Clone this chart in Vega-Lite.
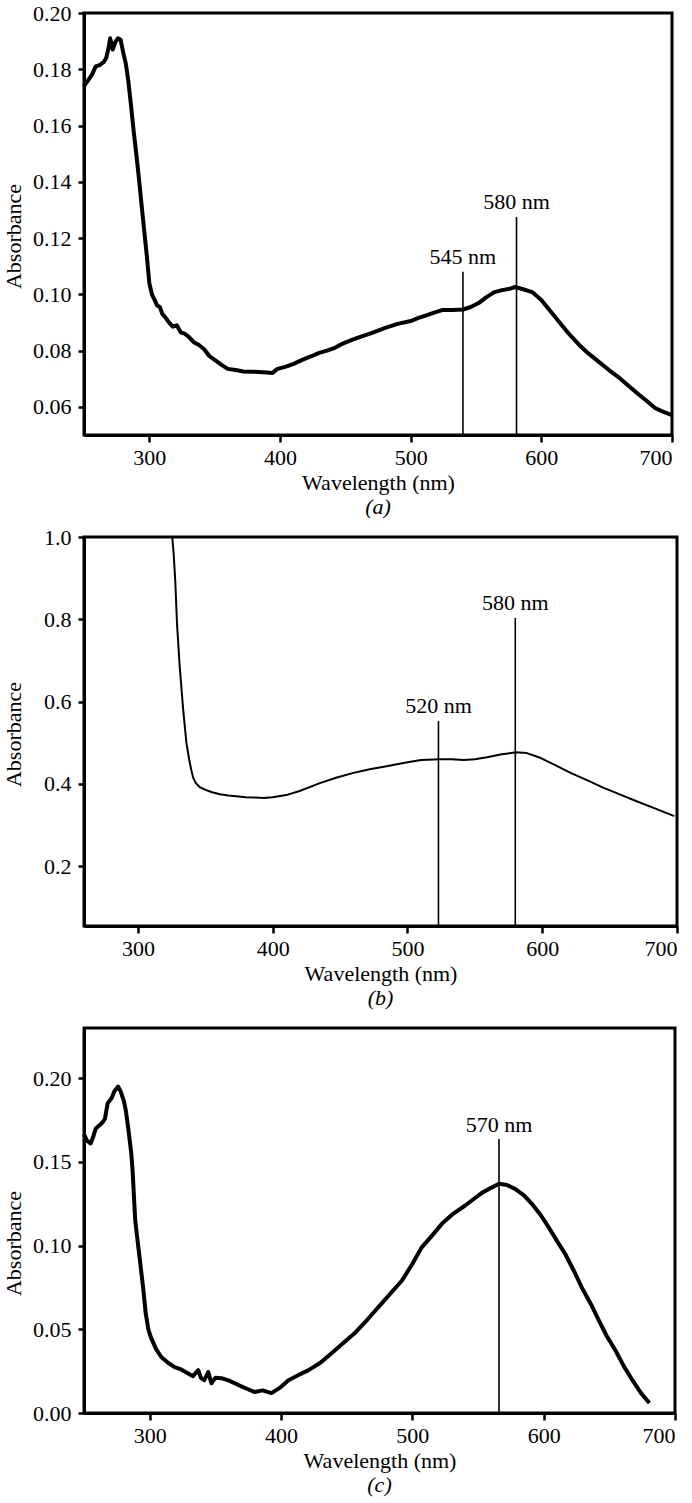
{
  "$schema": "https://vega.github.io/schema/vega-lite/v6.json",
  "background": "white",
  "padding": {"left": 0, "top": 0, "right": 5, "bottom": 5},
  "bounds": "flush",
  "spacing": 102,
  "config": {
    "font": "Liberation Serif",
    "view": {"stroke": "black", "strokeWidth": 3},
    "axis": {"grid": false, "domainColor": "black", "domainWidth": 3, "tickColor": "black", "tickWidth": 2.5, "labelColor": "black", "titleColor": "black", "labelFontSize": 22, "titleFontSize": 22, "titleFontWeight": "normal", "labelFont": "Liberation Serif", "titleFont": "Liberation Serif"},
    "axisX": {"tickSize": 7, "labelPadding": 5, "titlePadding": 4},
    "axisY": {"tickSize": 6, "labelPadding": 7, "titleAngle": 270, "titleBaseline": "middle", "titleAlign": "center", "titleX": -71},
    "title": {"font": "Liberation Serif", "fontSize": 22, "fontWeight": "normal", "fontStyle": "italic", "color": "black", "orient": "bottom", "frame": "group", "offset": 4},
    "text": {"font": "Liberation Serif", "fontSize": 22, "color": "black"}
  },
  "vconcat": [
    {
      "width": 588, "height": 422,
      "title": {"text": "(a)"},
      "layer": [
        {
          "data": {"values": [
            {"wl":250,"abs":0.174},{"wl":253,"abs":0.176},{"wl":256,"abs":0.178},{"wl":259,"abs":0.181},{"wl":262,"abs":0.1815},{"wl":265,"abs":0.1825},{"wl":267,"abs":0.184},{"wl":269,"abs":0.188},{"wl":270,"abs":0.191},{"wl":272,"abs":0.187},{"wl":274,"abs":0.1897},{"wl":276,"abs":0.191},{"wl":278,"abs":0.1905},{"wl":280,"abs":0.186},{"wl":282,"abs":0.182},{"wl":284,"abs":0.1755},{"wl":286,"abs":0.167},{"wl":288,"abs":0.158},{"wl":290,"abs":0.15},{"wl":292,"abs":0.1414},{"wl":294,"abs":0.132},{"wl":296,"abs":0.123},{"wl":298,"abs":0.114},{"wl":300,"abs":0.104},{"wl":302,"abs":0.1},{"wl":304,"abs":0.098},{"wl":306,"abs":0.096},{"wl":308,"abs":0.0955},{"wl":310,"abs":0.093},{"wl":312,"abs":0.092},{"wl":315,"abs":0.09},{"wl":318,"abs":0.0885},{"wl":321,"abs":0.089},{"wl":324,"abs":0.0865},{"wl":327,"abs":0.086},{"wl":330,"abs":0.085},{"wl":334,"abs":0.083},{"wl":338,"abs":0.082},{"wl":342,"abs":0.0805},{"wl":346,"abs":0.078},{"wl":350,"abs":0.0767},{"wl":355,"abs":0.075},{"wl":360,"abs":0.0735},{"wl":366,"abs":0.0731},{"wl":372,"abs":0.0726},{"wl":378,"abs":0.0725},{"wl":384,"abs":0.0724},{"wl":390,"abs":0.0722},{"wl":394,"abs":0.072},{"wl":398,"abs":0.0735},{"wl":404,"abs":0.0742},{"wl":410,"abs":0.0752},{"wl":417,"abs":0.0767},{"wl":424,"abs":0.078},{"wl":430,"abs":0.0792},{"wl":436,"abs":0.08},{"wl":442,"abs":0.081},{"wl":448,"abs":0.0825},{"wl":455,"abs":0.0838},{"wl":462,"abs":0.085},{"wl":470,"abs":0.0862},{"wl":480,"abs":0.088},{"wl":490,"abs":0.0895},{"wl":500,"abs":0.0905},{"wl":506,"abs":0.0916},{"wl":512,"abs":0.0925},{"wl":518,"abs":0.0935},{"wl":524,"abs":0.0944},{"wl":532,"abs":0.0944},{"wl":540,"abs":0.0946},{"wl":546,"abs":0.0955},{"wl":552,"abs":0.0969},{"wl":558,"abs":0.099},{"wl":564,"abs":0.1008},{"wl":570,"abs":0.1015},{"wl":576,"abs":0.102},{"wl":580,"abs":0.1026},{"wl":586,"abs":0.1018},{"wl":593,"abs":0.1008},{"wl":600,"abs":0.098},{"wl":607,"abs":0.094},{"wl":614,"abs":0.09},{"wl":621,"abs":0.086},{"wl":629,"abs":0.082},{"wl":636,"abs":0.079},{"wl":644,"abs":0.076},{"wl":652,"abs":0.073},{"wl":660,"abs":0.0702},{"wl":668,"abs":0.067},{"wl":675,"abs":0.0642},{"wl":681,"abs":0.062},{"wl":687,"abs":0.0596},{"wl":693,"abs":0.0583},{"wl":700,"abs":0.0571}
          ]},
          "mark": {"type": "line", "color": "black", "strokeWidth": 4, "strokeJoin": "round"},
          "encoding": {
            "x": {"field": "wl", "type": "quantitative", "scale": {"domain": [250, 700], "nice": false, "zero": false}, "axis": {"title": "Wavelength (nm)", "values": [300, 400, 500, 600, 700]}},
            "y": {"field": "abs", "type": "quantitative", "scale": {"domain": [0.05, 0.2], "nice": false, "zero": false}, "axis": {"title": "Absorbance", "values": [0.06, 0.08, 0.1, 0.12, 0.14, 0.16, 0.18, 0.2], "format": ".2f", "titleY": 223}}
          }
        },
        {
          "data": {"values": [{"wl": 540, "top": 0.108, "label": "545 nm"}, {"wl": 581, "top": 0.1275, "label": "580 nm"}]},
          "layer": [
            {"mark": {"type": "rule", "color": "black", "strokeWidth": 1.6}, "encoding": {"x": {"field": "wl", "type": "quantitative"}, "y": {"field": "top", "type": "quantitative"}, "y2": {"datum": 0.05}}},
            {"mark": {"type": "text", "baseline": "alphabetic", "align": "center", "dy": -8}, "encoding": {"x": {"field": "wl", "type": "quantitative"}, "y": {"field": "top", "type": "quantitative"}, "text": {"field": "label"}}}
          ]
        }
      ]
    },
    {
      "width": 593, "height": 389,
      "title": {"text": "(b)"},
      "layer": [
        {
          "data": {"values": [
            {"wl":325.5,"abs":1.0},{"wl":326.5,"abs":0.96},{"wl":327.7,"abs":0.895},{"wl":329,"abs":0.79},{"wl":331,"abs":0.686},{"wl":333.6,"abs":0.58},{"wl":336,"abs":0.5},{"wl":338,"abs":0.46},{"wl":339.6,"abs":0.434},{"wl":341,"abs":0.415},{"wl":343,"abs":0.402},{"wl":346,"abs":0.392},{"wl":350.7,"abs":0.385},{"wl":355,"abs":0.38},{"wl":361,"abs":0.375},{"wl":367,"abs":0.372},{"wl":373,"abs":0.37},{"wl":380,"abs":0.368},{"wl":387,"abs":0.367},{"wl":393,"abs":0.366},{"wl":400,"abs":0.368},{"wl":410,"abs":0.373},{"wl":420,"abs":0.383},{"wl":435,"abs":0.402},{"wl":447,"abs":0.415},{"wl":460,"abs":0.427},{"wl":472,"abs":0.436},{"wl":484.5,"abs":0.443},{"wl":497,"abs":0.451},{"wl":510,"abs":0.458},{"wl":524.7,"abs":0.46},{"wl":533,"abs":0.46},{"wl":541.8,"abs":0.458},{"wl":550,"abs":0.46},{"wl":559,"abs":0.465},{"wl":570,"abs":0.472},{"wl":580.4,"abs":0.477},{"wl":588.6,"abs":0.475},{"wl":599,"abs":0.463},{"wl":610,"abs":0.445},{"wl":621,"abs":0.427},{"wl":634,"abs":0.408},{"wl":646,"abs":0.39},{"wl":658,"abs":0.374},{"wl":670,"abs":0.358},{"wl":684,"abs":0.34},{"wl":698,"abs":0.322}
          ]},
          "mark": {"type": "line", "color": "black", "strokeWidth": 2, "strokeJoin": "round"},
          "encoding": {
            "x": {"field": "wl", "type": "quantitative", "scale": {"domain": [260, 700], "nice": false, "zero": false}, "axis": {"title": "Wavelength (nm)", "values": [300, 400, 500, 600, 700]}},
            "y": {"field": "abs", "type": "quantitative", "scale": {"domain": [0.055, 1.0], "nice": false, "zero": false}, "axis": {"title": "Absorbance", "values": [0.2, 0.4, 0.6, 0.8, 1.0], "format": ".1f", "titleY": 197}}
          }
        },
        {
          "data": {"values": [{"wl": 523, "top": 0.553, "label": "520 nm"}, {"wl": 580, "top": 0.803, "label": "580 nm"}]},
          "layer": [
            {"mark": {"type": "rule", "color": "black", "strokeWidth": 1.6}, "encoding": {"x": {"field": "wl", "type": "quantitative"}, "y": {"field": "top", "type": "quantitative"}, "y2": {"datum": 0.055}}},
            {"mark": {"type": "text", "baseline": "alphabetic", "align": "center", "dy": -8}, "encoding": {"x": {"field": "wl", "type": "quantitative"}, "y": {"field": "top", "type": "quantitative"}, "text": {"field": "label"}}}
          ]
        }
      ]
    },
    {
      "width": 591, "height": 385,
      "title": {"text": "(c)"},
      "layer": [
        {
          "data": {"values": [
            {"wl":250,"abs":0.1667},{"wl":252,"abs":0.163},{"wl":255,"abs":0.161},{"wl":257,"abs":0.165},{"wl":259,"abs":0.17},{"wl":262,"abs":0.172},{"wl":264.5,"abs":0.174},{"wl":266,"abs":0.176},{"wl":268,"abs":0.185},{"wl":271,"abs":0.188},{"wl":273,"abs":0.192},{"wl":276,"abs":0.195},{"wl":278,"abs":0.192},{"wl":280.5,"abs":0.186},{"wl":282,"abs":0.18},{"wl":284,"abs":0.168},{"wl":286,"abs":0.155},{"wl":287,"abs":0.1446},{"wl":289,"abs":0.115},{"wl":292,"abs":0.095},{"wl":295,"abs":0.075},{"wl":297,"abs":0.0595},{"wl":299,"abs":0.05},{"wl":301,"abs":0.045},{"wl":305,"abs":0.038},{"wl":309,"abs":0.0333},{"wl":314,"abs":0.03},{"wl":319,"abs":0.0274},{"wl":324,"abs":0.026},{"wl":329,"abs":0.0238},{"wl":333,"abs":0.022},{"wl":337,"abs":0.0256},{"wl":339,"abs":0.021},{"wl":341.6,"abs":0.0196},{"wl":344.6,"abs":0.0244},{"wl":347,"abs":0.0178},{"wl":350,"abs":0.021},{"wl":354.6,"abs":0.0208},{"wl":360,"abs":0.0195},{"wl":367.6,"abs":0.0167},{"wl":374,"abs":0.0145},{"wl":380,"abs":0.0125},{"wl":386,"abs":0.0135},{"wl":392.7,"abs":0.0119},{"wl":399,"abs":0.015},{"wl":405.7,"abs":0.0196},{"wl":413,"abs":0.0225},{"wl":421,"abs":0.0256},{"wl":430,"abs":0.03},{"wl":438.5,"abs":0.0357},{"wl":447,"abs":0.0415},{"wl":456,"abs":0.0476},{"wl":466,"abs":0.056},{"wl":476.7,"abs":0.0655},{"wl":484,"abs":0.072},{"wl":492,"abs":0.079},{"wl":500,"abs":0.089},{"wl":507,"abs":0.0988},{"wl":515,"abs":0.106},{"wl":522.5,"abs":0.113},{"wl":531,"abs":0.119},{"wl":540,"abs":0.1238},{"wl":547,"abs":0.128},{"wl":553,"abs":0.1315},{"wl":560,"abs":0.1345},{"wl":566,"abs":0.1369},{"wl":572,"abs":0.1362},{"wl":578,"abs":0.134},{"wl":585,"abs":0.13},{"wl":591,"abs":0.125},{"wl":598,"abs":0.118},{"wl":604,"abs":0.1107},{"wl":610,"abs":0.103},{"wl":616.4,"abs":0.095},{"wl":623,"abs":0.085},{"wl":629,"abs":0.075},{"wl":636,"abs":0.065},{"wl":642,"abs":0.0554},{"wl":648,"abs":0.046},{"wl":654.6,"abs":0.0375},{"wl":661,"abs":0.028},{"wl":667.6,"abs":0.0196},{"wl":674,"abs":0.012},{"wl":680.5,"abs":0.006}
          ]},
          "mark": {"type": "line", "color": "black", "strokeWidth": 4, "strokeJoin": "round"},
          "encoding": {
            "x": {"field": "wl", "type": "quantitative", "scale": {"domain": [250, 700], "nice": false, "zero": false}, "axis": {"title": "Wavelength (nm)", "values": [300, 400, 500, 600, 700]}},
            "y": {"field": "abs", "type": "quantitative", "scale": {"domain": [0, 0.23], "nice": false, "zero": false}, "axis": {"title": "Absorbance", "values": [0, 0.05, 0.1, 0.15, 0.2], "format": ".2f", "titleY": 215}}
          }
        },
        {
          "data": {"values": [{"wl": 566, "top": 0.1637, "label": "570 nm"}]},
          "layer": [
            {"mark": {"type": "rule", "color": "black", "strokeWidth": 1.6}, "encoding": {"x": {"field": "wl", "type": "quantitative"}, "y": {"field": "top", "type": "quantitative"}, "y2": {"datum": 0}}},
            {"mark": {"type": "text", "baseline": "alphabetic", "align": "center", "dy": -7}, "encoding": {"x": {"field": "wl", "type": "quantitative"}, "y": {"field": "top", "type": "quantitative"}, "text": {"field": "label"}}}
          ]
        }
      ]
    }
  ]
}
